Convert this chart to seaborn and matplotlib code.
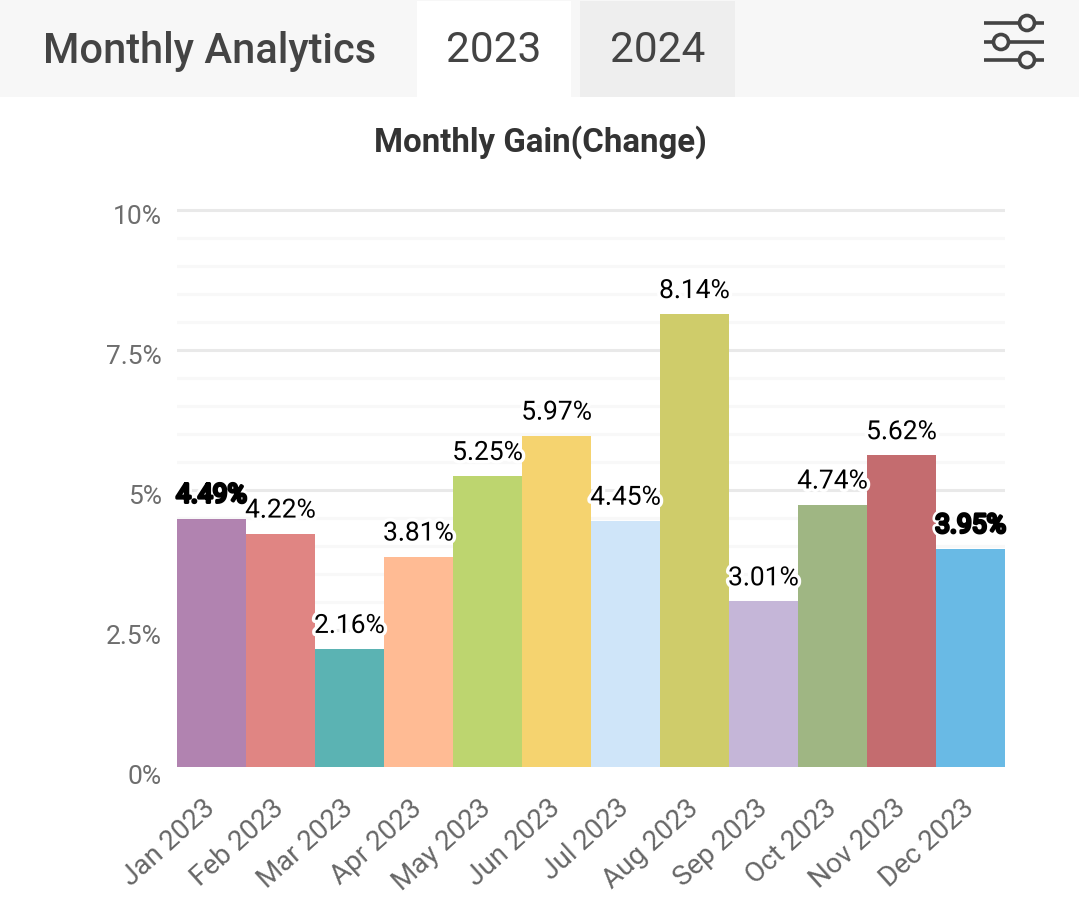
# Monthly gain chart with the app header drawn above it
import pandas as pd
import seaborn as sns
import matplotlib.pyplot as plt
import matplotlib.patheffects as pe
from matplotlib.patches import Rectangle, Circle
from matplotlib.ticker import MultipleLocator, FuncFormatter
from matplotlib.transforms import ScaledTranslation

months = ['Jan 2023', 'Feb 2023', 'Mar 2023', 'Apr 2023', 'May 2023', 'Jun 2023',
          'Jul 2023', 'Aug 2023', 'Sep 2023', 'Oct 2023', 'Nov 2023', 'Dec 2023']
gains = [4.49, 4.22, 2.16, 3.81, 5.25, 5.97, 4.45, 8.14, 3.01, 4.74, 5.62, 3.95]
colors = ['#B183B0', '#E08583', '#5BB3B3', '#FFBB94', '#BDD56F', '#F5D36F',
          '#CFE5F9', '#CFCC6A', '#C5B6D8', '#9FB683', '#C46C6F', '#69BAE5']
doubled = ['Jan 2023', 'Dec 2023']

W, H = 1079, 920
sns.set_theme(style='white')
plt.rcParams['font.family'] = ['Roboto', 'DejaVu Sans']

fig = plt.figure(figsize=(W / 100, H / 100), dpi=100, facecolor='white')
ax = fig.add_axes([177 / W, 1 - 771 / H, (1005 - 177) / W, (771 - 205) / H])

df = pd.DataFrame({'month': months, 'gain': gains})
sns.barplot(data=df, x='month', y='gain', hue='month', palette=colors,
            width=1.0, dodge=False, legend=False, saturation=1, linewidth=0, ax=ax, zorder=2)

# 56 px per unit
ax.set_ylim(0, 10 + 6 / 56)
ax.set_xlim(-0.5, 11.5)
ax.set_xlabel('')
ax.set_ylabel('')
sns.despine(ax=ax, left=True, bottom=True)

ax.yaxis.set_major_locator(MultipleLocator(2.5))
ax.yaxis.set_minor_locator(MultipleLocator(0.5))
ax.yaxis.set_major_formatter(FuncFormatter(lambda v, p: f'{v:g}%'))
ax.grid(False)
ax.grid(axis='y', which='minor', color='#F8F8F8', lw=2.2, zorder=0)
ax.grid(axis='y', which='major', color='#E9E9E9', lw=2.2, zorder=1)
ax.set_axisbelow(True)
ax.tick_params(axis='y', which='both', length=0)
ax.tick_params(axis='y', which='major', labelsize=19, labelcolor='#6E6E6E', pad=11)
ax.tick_params(axis='x', length=0, labelsize=20, labelcolor='#666666', pad=17)
ax.set_xticks(range(len(months)))
ax.set_xticklabels(months, rotation=42, ha='right', rotation_mode='anchor')
for lab in ax.get_yticklabels():
    lab.set_transform(lab.get_transform() + ScaledTranslation(0, -0.04, fig.dpi_scale_trans))
for lab in ax.get_xticklabels():
    lab.set_transform(lab.get_transform() + ScaledTranslation(-0.09, 0, fig.dpi_scale_trans))

for cont, month in zip(ax.containers, months):
    txt = ax.bar_label(cont, fmt='%.2f%%', padding=8, fontsize=19, color='black', zorder=5)
    if month in doubled:
        fx = [pe.withStroke(linewidth=6, foreground='white'),
              pe.withStroke(linewidth=2.2, foreground='black')]
    else:
        fx = [pe.withStroke(linewidth=5, foreground='white')]
    txt[0].set_path_effects(fx)

# header, drawn in pixel coordinates on a full figure overlay
top = fig.add_axes([0, 0, 1, 1], facecolor='none')
top.set_xlim(0, W)
top.set_ylim(H, 0)
top.axis('off')
# bars stop a few px above the zero line in the screenshot
top.add_patch(Rectangle((170, 767.5), 840, 7, color='white', lw=0))
top.add_patch(Rectangle((0, 0), W, 98, color='#F7F7F7', lw=0))
top.add_patch(Rectangle((417, 2), 154, 96, color='white', lw=0))
top.add_patch(Rectangle((580, 2), 155, 96, color='#EEEEEE', lw=0))
top.text(43, 51, 'Monthly Analytics', fontsize=30, fontweight='medium', color='#444444', va='center')
top.text(494, 51, '2023', fontsize=30.5, color='#444444', ha='center', va='center')
top.text(658, 51, '2024', fontsize=30.5, color='#444444', ha='center', va='center')
top.text(540, 142, 'Monthly Gain(Change)', fontsize=23.8, fontweight='bold', color='#333333',
         ha='center', va='center')

# slider icon
for y, x in zip([24, 43, 61], [1027, 1001, 1027]):
    top.plot([984, 1044], [y, y], color='#444444', lw=2.6, solid_capstyle='butt')
    top.add_patch(Circle((x, y), 7.5, facecolor='#F7F7F7', edgecolor='#444444', lw=2.6, zorder=4))

fig.savefig('out.png', dpi=100)
